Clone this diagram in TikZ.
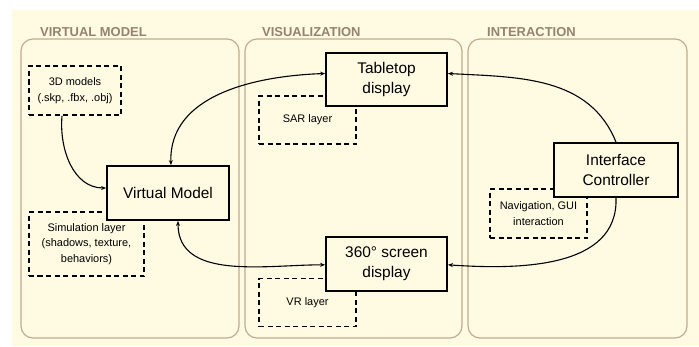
\documentclass[tikz,border=0pt]{standalone}
\usepackage{fontspec}
\setmainfont{Liberation Sans}
\usetikzlibrary{positioning,arrows.meta}

\definecolor{cream}{RGB}{255,250,226}
\definecolor{panelline}{RGB}{192,172,146}
\definecolor{paneltext}{RGB}{150,130,110}

\begin{document}
\begin{tikzpicture}[x=1bp, y=1bp,
	panel/.style={draw=panelline, line width=1.2bp, rounded corners=12bp},
	title/.style={text=paneltext, font=\bfseries\fontsize{13}{13}\selectfont, inner sep=0pt, anchor=south west},
	block/.style={draw, line width=1.8bp, fill=cream, align=center, inner sep=0pt,
		font=\fontsize{15.5}{20}\selectfont},
	layer/.style={draw, line width=1.6bp, dash pattern=on 5bp off 3.5bp, align=center, inner sep=0pt,
		font=\fontsize{11}{15.5}\selectfont},
	link/.style={line width=1.1bp, -{Stealth[length=5bp,width=4bp]}},
	twoway/.style={line width=1.1bp, {Stealth[length=5bp,width=4bp]}-{Stealth[length=5bp,width=4bp]}}
]

	% Background and panels
	\useasboundingbox (0,0) rectangle (699,346);
	\fill[cream] (12,0) rectangle (699,336);
	\draw[panel] (21,8) rectangle (239,307);
	\draw[panel] (245,8) rectangle (462,307);
	\draw[panel] (468,8) rectangle (687,307);
	\node[title] (tmodel) at (40,309) {VIRTUAL MODEL};
	\node[title] (tvis) at (262,309) {VISUALIZATION};
	\node[title] (tint) at (487,309) {INTERACTION};

	% Layers (behind the blocks)
	\node[layer, minimum width=92bp, minimum height=49bp] (models) at (75,255.5) {3D models\\(.skp, .fbx, .obj)};
	\node[layer, minimum width=115bp, minimum height=64bp] (sim) at (86.5,102) {Simulation layer\\(shadows, texture,\\behaviors)};
	\node[layer, minimum width=97bp, minimum height=48bp] (sar) at (307.5,226) {SAR layer};
	\node[layer, minimum width=97bp, minimum height=48bp, below=133bp of sar] (vr) {VR layer};
	\node[layer, minimum width=97bp, minimum height=49bp] (nav) at (538.5,132.5) {Navigation, GUI\\interaction};

	% Blocks
	\node[block, minimum width=122bp, minimum height=54bp] (vm) at (168,153) {Virtual Model};
	\node[block, minimum width=121bp, minimum height=53bp] (tabletop) at (386.5,266.5) {Tabletop\\display};
	\node[block, minimum width=121bp, minimum height=54bp, below=129bp of tabletop] (screen) {360° screen\\display};
	\node[block, minimum width=124bp, minimum height=54bp] (ctrl) at (616,176) {Interface\\Controller};

	% Connectors
	\draw[link] ([xshift=-13bp]models.south) to[out=-95, in=180] ([yshift=5bp]vm.west);
	\draw[twoway] ([xshift=3bp]vm.north) to[out=92, in=182] ([yshift=6bp]tabletop.west);
	\draw[twoway] ([xshift=10bp]vm.south) to[out=-90, in=180] ([yshift=-1bp]screen.west);
	\draw[link] (ctrl.north) to[out=112, in=-3] ([yshift=6bp]tabletop.east);
	\draw[link] (ctrl.south) to[out=-88, in=-4] ([yshift=-1bp]screen.east);

\end{tikzpicture}
\end{document}
